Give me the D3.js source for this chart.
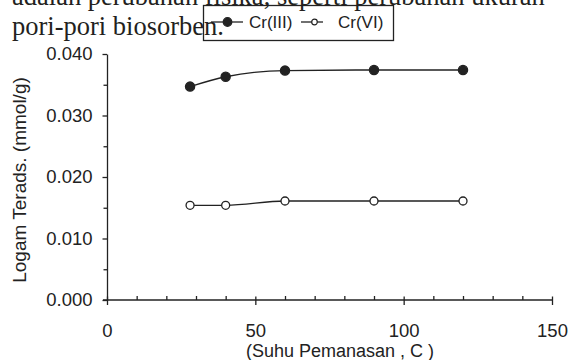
<!DOCTYPE html>
<html><head><meta charset="utf-8">
<script src="https://cdn.jsdelivr.net/npm/d3@7"></script>
<style>body{margin:0;background:#fff}svg{display:block}</style>
</head><body>
<svg id="c" width="569" height="360"></svg>
<script>
const temps = [28, 40, 60, 90, 120];
const cr3 = [0.0347, 0.0363, 0.0373, 0.0374, 0.0374];
const cr6 = [0.0154, 0.0154, 0.0161, 0.0161, 0.0161];
const seriesNames = ["Cr(III)", "Cr(VI)"];
const xTicks = [0, 50, 100, 150];
const xMinor = [10, 20, 30, 40, 60, 70, 80, 90, 110, 120, 130, 140];
const yTicks = [0, 0.01, 0.02, 0.03, 0.04];
const yMinor = [0.005, 0.015, 0.025, 0.035];
const headerLines = ["adalah perubahan fisika, seperti perubahan ukuran", "pori-pori biosorben."];
const xTitle = "(Suhu Pemanasan , C  )";
const yTitle = "Logam Terads. (mmol/g)";

const ink = "#222";
const svg = d3.select("#c");
const x = d3.scaleLinear().domain([0, 150]).range([107, 552]);
const y = d3.scaleLinear().domain([0, 0.04]).range([300, 54]);

// header text from the document
svg.selectAll("text.hdr").data(headerLines).join("text")
  .attr("class", "hdr")
  .attr("x", 12).attr("y", (d, i) => 5 + i * 30)
  .attr("font-family", "'Liberation Serif', 'Times New Roman', serif")
  .attr("font-size", 26.5).attr("fill", "#231f20")
  .text(d => d);

const font = "'Liberation Sans', Arial, sans-serif";

// X axis
const gx = svg.append("g").attr("transform", `translate(0,${y(0)})`);
gx.call(d3.axisBottom(x).tickValues(xTicks).tickSizeInner(5).tickSizeOuter(0).tickPadding(19).tickFormat(d3.format("d")));
gx.selectAll(".tick line").attr("y1", -3.5);
const gxm = svg.append("g").attr("transform", `translate(0,${y(0)})`);
gxm.call(d3.axisBottom(x).tickValues(xMinor).tickSizeInner(-4).tickSizeOuter(0).tickFormat(""));
gxm.select(".domain").remove();

// Y axis
const gy = svg.append("g").attr("transform", `translate(${x(0)},0)`);
gy.call(d3.axisLeft(y).tickValues(yTicks).tickSizeInner(4.5).tickSizeOuter(0).tickPadding(10).tickFormat(d3.format(".3f")));
const gym = svg.append("g").attr("transform", `translate(${x(0)},0)`);
gym.call(d3.axisLeft(y).tickValues(yMinor).tickSizeInner(3.5).tickSizeOuter(0).tickFormat(""));
gym.select(".domain").remove();

svg.selectAll(".domain, .tick line").attr("stroke", ink).attr("stroke-width", 1.3);
svg.selectAll(".tick text").attr("fill", ink).attr("font-family", font).attr("font-size", 18.5);
svg.selectAll("g").attr("font-family", font);

// extend x-axis line a little to the left of the origin
gx.select(".domain").attr("d", `M${x(0) - 4},0H${x(150)}`);

// axis titles
svg.append("text").attr("x", x(0) + 139).attr("y", 356.5)
  .attr("font-family", font).attr("font-size", 18).attr("fill", ink)
  .text(xTitle);
svg.append("text").attr("transform", "translate(26,180) rotate(-90)")
  .attr("text-anchor", "middle")
  .attr("font-family", font).attr("font-size", 19).attr("fill", ink)
  .text(yTitle);

// lines
const line = d3.line().x(d => x(d[0])).y(d => y(d[1])).curve(d3.curveMonotoneX);
const series = [
  { name: seriesNames[0], vals: cr3, fill: ink },
  { name: seriesNames[1], vals: cr6, fill: "#fff" }
];
series.forEach(s => {
  const pts = temps.map((t, i) => [t, s.vals[i]]);
  svg.append("path").datum(pts).attr("d", line)
    .attr("fill", "none").attr("stroke", ink).attr("stroke-width", 1.3);
  svg.selectAll(null).data(pts).join("circle")
    .attr("cx", d => x(d[0])).attr("cy", d => y(d[1]))
    .attr("r", s.fill === ink ? 4.6 : 4)
    .attr("fill", s.fill).attr("stroke", ink).attr("stroke-width", 1.3);
});

// legend
const lg = svg.append("g");
lg.append("rect").attr("x", 203.5).attr("y", 5.5).attr("width", 190).attr("height", 35)
  .attr("fill", "none").attr("stroke", ink).attr("stroke-width", 1.3);
const legX = [211, 301];
series.forEach((s, i) => {
  const g = lg.append("g").attr("transform", `translate(${legX[i]},22)`);
  g.append("line").attr("x1", 0).attr("x2", i === 0 ? 32 : 22).attr("stroke", ink).attr("stroke-width", 1.3);
  g.append("circle").attr("cx", i === 0 ? 16.5 : 13.5).attr("r", i === 0 ? 4.3 : 2.8)
    .attr("fill", s.fill).attr("stroke", ink).attr("stroke-width", 1.2);
  g.append("text").attr("x", i === 0 ? 38 : 37).attr("y", 6)
    .attr("font-family", font).attr("font-size", 17).attr("fill", ink).text(s.name);
});
</script>
</body></html>
